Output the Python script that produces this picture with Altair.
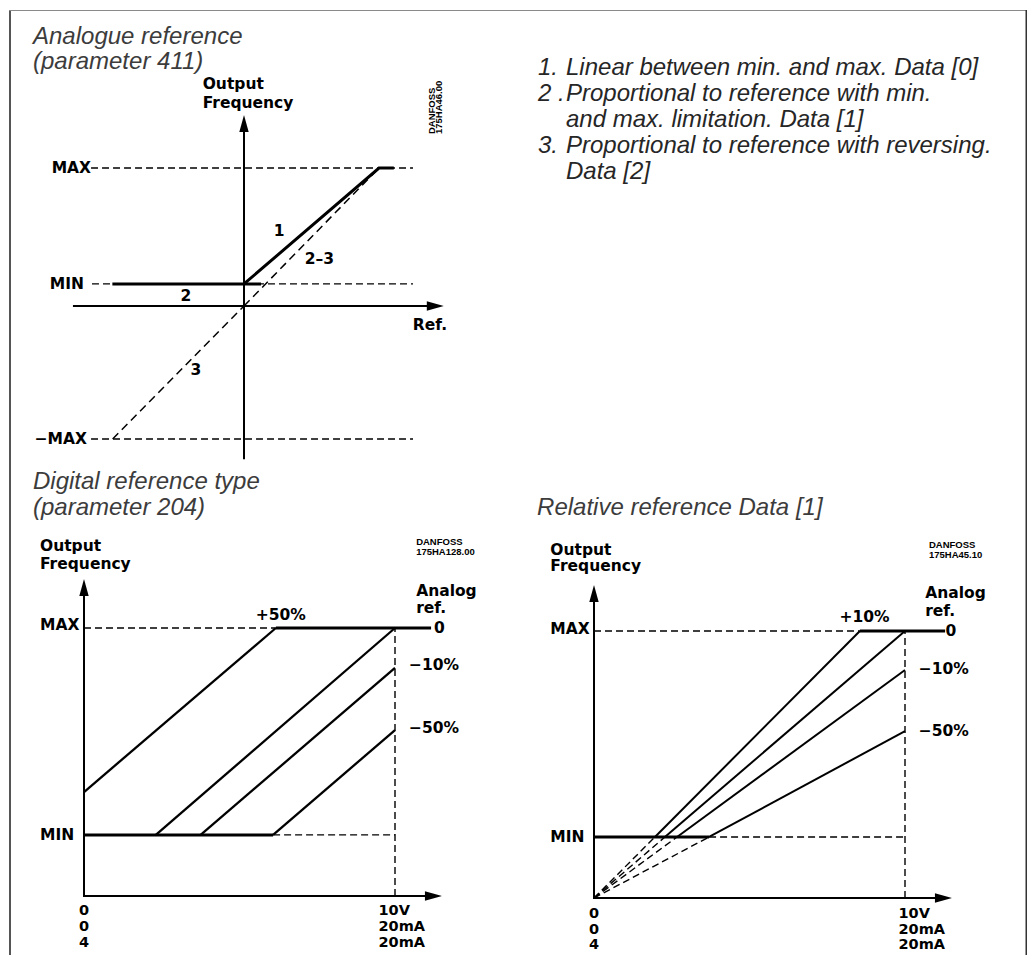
import altair as alt
import pandas as pd

# ---------------- data ----------------
# Panel A : analogue reference (x = Ref., y = output frequency, MAX = 1)
a_max, a_min, a_negmax = 1.0, 0.16, -0.964
a_curve1_x = [0.0, 1.0, 1.11]          # 1. linear between min and max
a_curve1_y = [0.16, 1.0, 1.0]
a_curve2_x = [-0.975, 0.126]           # 2. min limitation part
a_curve2_y = [0.16, 0.16]
a_curve23_x = [0.0, 1.0]               # 2-3 proportional part
a_curve23_y = [0.0, 1.0]
a_curve3_x = [-0.973, 0.0]             # 3. reversing part
a_curve3_y = [-0.964, 0.0]

# Panel B : digital reference type (x = analog ref 0..10 V, y = % of MAX)
dig_min, dig_max = 22.8, 100.0
dig_labels = ["+50%", "0", "\u221210%", "\u221250%"]
dig_x_start = [0.0, 2.31, 3.75, 6.08]
dig_y_start = [38.8, 22.8, 22.8, 22.8]
dig_x_end = [6.17, 10.0, 10.0, 10.0]
dig_y_end = [100.0, 100.0, 85.1, 61.9]

# Panel C : relative reference Data [1]
rel_min, rel_max = 22.85, 100.0
rel_labels = ["+10%", "0", "\u221210%", "\u221250%"]
rel_x_min = [1.96, 2.28, 2.67, 3.70]   # where each line crosses MIN
rel_x_end = [8.55, 10.0, 10.0, 10.0]
rel_y_end = [100.0, 100.0, 85.4, 62.5]

# x-axis end labels
x_lo_labels = ["0", "0", "4"]
x_hi_labels = ["10V", "20mA", "20mA"]

# Text list
list_nums = ["1.", "2 .", "", "3.", ""]
list_text = ["Linear between min. and max. Data [0]",
             "Proportional to reference with min.",
             "and max. limitation. Data [1]",
             "Proportional to reference with reversing.",
             "Data [2]"]

# ---------------- styling ----------------
DIAG_FONT = "DejaVu Sans"
TITLE_FONT = "Liberation Sans"
TITLE_SIZE = 24
TITLE_COLOR = "#3c3c3c"
LIST_COLOR = "#262626"
LBL = 15.5
STACK = 14.5
DASH = [7, 4]
FRAME = "#555555"

W_L, W_R = 508, 510
H_T, H_B = 450, 495

UP = "M0,0L0.55,2L-0.55,2Z"
RIGHT = "M0,0L-2,-0.55L-2,0.55Z"


def lines(paths, xs, ys, width, dash=None):
    rows = []
    for k, (px, py) in enumerate(paths):
        for j, (a, b) in enumerate(zip(px, py)):
            rows.append({"id": k, "o": j, "x": a, "y": b})
    kw = dict(strokeWidth=width, color="black", strokeCap="butt", strokeJoin="miter")
    if dash:
        kw["strokeDash"] = dash
    return alt.Chart(pd.DataFrame(rows)).mark_line(**kw).encode(
        x=alt.X("x:Q", scale=xs, axis=None),
        y=alt.Y("y:Q", scale=ys, axis=None),
        detail="id:N", order="o:Q")


def texts(rows, xs, ys, size, align="left", baseline="alphabetic", font=DIAG_FONT,
          bold=True, italic=False, color="black", angle=None):
    df = pd.DataFrame(rows, columns=["t", "x", "y"])
    kw = dict(align=align, baseline=baseline, font=font, fontSize=size,
              fontWeight="bold" if bold else "normal", color=color)
    if italic:
        kw["fontStyle"] = "italic"
    if angle is not None:
        kw["angle"] = angle
    return alt.Chart(df).mark_text(**kw).encode(
        x=alt.X("x:Q", scale=xs, axis=None),
        y=alt.Y("y:Q", scale=ys, axis=None),
        text="t:N")


def arrows(pts, shape, xs, ys, size=289):
    df = pd.DataFrame(pts, columns=["x", "y"])
    return alt.Chart(df).mark_point(shape=shape, filled=True, size=size, color="black",
                                    opacity=1, strokeWidth=0).encode(
        x=alt.X("x:Q", scale=xs, axis=None),
        y=alt.Y("y:Q", scale=ys, axis=None))


def vrule(xpx, h, width, color):
    return alt.Chart(pd.DataFrame({"d": [0]})).mark_rule(strokeWidth=width, color=color).encode(
        x=alt.value(xpx), y=alt.value(0), y2=alt.value(h))


def hrule(ypx, w, width, color):
    return alt.Chart(pd.DataFrame({"d": [0]})).mark_rule(strokeWidth=width, color=color).encode(
        y=alt.value(ypx), x=alt.value(0), x2=alt.value(w))


def sc(lo, hi, reverse=False):
    if reverse:
        return alt.Scale(domain=[lo, hi], nice=False, zero=False, reverse=True)
    return alt.Scale(domain=[lo, hi], nice=False, zero=False)


# ---------------- panel A ----------------
ax = sc(-235 / 135, 273 / 135)
ay = sc(-154 / 138, 296 / 138)
panelA = alt.layer(
    vrule(1, H_T, 2, FRAME),
    hrule(0.5, W_L, 1, "#8a8a8a"),
    # guides
    lines([([-1.133, 1.252], [a_max, a_max]),
           ([-1.126, 1.252], [a_min, a_min]),
           ([-1.133, 1.252], [a_negmax, a_negmax])], ax, ay, 1.4, DASH),
    lines([(a_curve23_x, a_curve23_y), (a_curve3_x, a_curve3_y)], ax, ay, 1.5, [8, 5]),
    # axes
    lines([([-1.267, 1.42], [0, 0]), ([0, 0], [-1.11, 1.33])], ax, ay, 2),
    arrows([(1.48, 0)], RIGHT, ax, ay),
    arrows([(0, 1.384)], UP, ax, ay),
    # curves
    lines([(a_curve1_x, a_curve1_y), (a_curve2_x, a_curve2_y)], ax, ay, 3),
    texts([("MAX", -1.133, a_max), ("MIN", -1.185, a_min), ("\u2212MAX", -1.163, a_negmax),
           ("Ref.", 1.504, -0.141)], ax, ay, LBL, align="right", baseline="middle"),
    texts([("1", 0.26, 0.543), ("2\u20133", 0.559, 0.337), ("2", -0.43, 0.076),
           ("3", -0.356, -0.467)], ax, ay, LBL, align="center", baseline="middle"),
    texts([("Output", -0.306, 1.570), ("Frequency", -0.306, 1.437)], ax, ay, LBL),
    texts([("DANFOSS", 1.396, 1.246), ("175HA46.00", 1.448, 1.246)], ax, ay, 9.5,
          font="Liberation Sans", baseline="middle", angle=270),
    texts([("Analogue reference", -1.563, 1.899), ("(parameter 411)", -1.563, 1.718)],
          ax, ay, TITLE_SIZE, font=TITLE_FONT, bold=False, italic=True, color=TITLE_COLOR),
).properties(width=W_L, height=H_T)

# ---------------- text list panel ----------------
tx = sc(-0.75, 17.464)
ty = sc(-2.526, 14.882, reverse=True)
list_rows_n = [(n, 0, i) for i, n in enumerate(list_nums) if n]
list_rows_t = [(t, 1, i) for i, t in enumerate(list_text)]
panelT = alt.layer(
    hrule(0.5, W_R, 1, "#8a8a8a"),
    vrule(509.25, H_T, 1.5, "#333333"),
    texts(list_rows_n, tx, ty, TITLE_SIZE, font=TITLE_FONT, bold=False, italic=True, color=LIST_COLOR),
    texts(list_rows_t, tx, ty, TITLE_SIZE, font=TITLE_FONT, bold=False, italic=True, color=LIST_COLOR),
).properties(width=W_R, height=H_T)

# ---------------- panel B ----------------
bx = sc((8 - 83) / 31.1, (516 - 83) / 31.1)
by = sc((894 - 953) / 2.68, (894 - 458) / 2.68)
dig_paths = [([x0, x1], [y0, y1]) for x0, y0, x1, y1 in
             zip(dig_x_start, dig_y_start, dig_x_end, dig_y_end)]
b_rows = [-7.09, -13.06, -19.03]
panelB = alt.layer(
    vrule(1, H_B, 2, FRAME),
    lines([([0, dig_x_end[0]], [dig_max, dig_max]),
           ([dig_x_start[3], 10], [dig_min, dig_min]),
           ([10, 10], [0, dig_max])], bx, by, 1.4, DASH),
    lines([([0, 0, 11.25], [115.3, 0, 0])], bx, by, 2),
    arrows([(11.51, 0)], RIGHT, bx, by),
    arrows([(0, 118.3)], UP, bx, by),
    lines([([dig_x_end[0], 11.16], [dig_max, dig_max]),
           ([0, dig_x_start[3]], [dig_min, dig_min])], bx, by, 3),
    lines(dig_paths, bx, by, 2.3),
    texts([("MAX", -1.415, 101.0), ("MIN", -1.415, dig_min), ("0", 11.25, dig_max),
           (dig_labels[2], 10.45, 86.2), (dig_labels[3], 10.45, 62.7)],
          bx, by, LBL, baseline="middle"),
    texts([(dig_labels[0], 6.33, 105.0)], bx, by, LBL, align="center", baseline="middle"),
    texts([("Output", -1.415, 128.6), ("Frequency", -1.415, 122.1),
           ("Analog", 10.68, 112.1), ("ref.", 10.68, 105.5)], bx, by, LBL),
    texts([(t, 9.47, yy) for t, yy in zip(x_hi_labels, b_rows)], bx, by, STACK),
    texts([(t, 0, yy) for t, yy in zip(x_lo_labels, b_rows)], bx, by, STACK, align="center"),
    texts([("DANFOSS", 10.68, 130.9), ("175HA128.00", 10.68, 127.1)], bx, by, 9.5,
          font="Liberation Sans"),
    texts([("Digital reference type", -1.64, 152.0), ("(parameter 204)", -1.64, 142.3)],
          bx, by, TITLE_SIZE, font=TITLE_FONT, bold=False, italic=True, color=TITLE_COLOR),
).properties(width=W_L, height=H_B)

# ---------------- panel C ----------------
cx = sc((516 - 593) / 31.1, (1026 - 593) / 31.1)
cy = sc((896 - 953) / 2.67, (896 - 458) / 2.67)
rel_low = [([0, xm], [0, rel_min]) for xm in rel_x_min]
rel_up = [([xm, x1], [rel_min, y1]) for xm, x1, y1 in zip(rel_x_min, rel_x_end, rel_y_end)]
c_rows = [-7.49, -13.30, -19.10]
panelC = alt.layer(
    vrule(509.25, H_B, 1.5, "#333333"),
    lines([([0, rel_x_end[0]], [rel_max, rel_max]),
           ([rel_x_min[3], 10], [rel_min, rel_min]),
           ([10, 10], [0, rel_max])] + rel_low, cx, cy, 1.4, DASH),
    lines([([0, 0, 11.25], [114.2, 0, 0])], cx, cy, 2),
    arrows([(11.51, 0)], RIGHT, cx, cy),
    arrows([(0, 117.2)], UP, cx, cy),
    lines([([rel_x_end[0], 11.29], [rel_max, rel_max]),
           ([0, rel_x_min[3]], [rel_min, rel_min])], cx, cy, 3),
    lines(rel_up, cx, cy, 2),
    texts([("MAX", -1.405, 100.9), ("MIN", -1.405, rel_min), ("0", 11.30, rel_max),
           (rel_labels[2], 10.44, 85.9), (rel_labels[3], 10.44, 62.4)],
          cx, cy, LBL, baseline="middle"),
    texts([(rel_labels[0], 8.70, 105.2)], cx, cy, LBL, align="center", baseline="middle"),
    texts([("Output", -1.405, 128.6), ("Frequency", -1.405, 122.4),
           ("Analog", 10.65, 112.4), ("ref.", 10.65, 105.7)], cx, cy, LBL),
    texts([(t, 9.79, yy) for t, yy in zip(x_hi_labels, c_rows)], cx, cy, STACK),
    texts([(t, 0, yy) for t, yy in zip(x_lo_labels, c_rows)], cx, cy, STACK, align="center"),
    texts([("DANFOSS", 10.77, 131.2), ("175HA45.10", 10.77, 127.5)], cx, cy, 9.5,
          font="Liberation Sans"),
    texts([("Relative reference Data [1]", -1.83, 143.3)],
          cx, cy, TITLE_SIZE, font=TITLE_FONT, bold=False, italic=True, color=TITLE_COLOR),
).properties(width=W_R, height=H_B)

chart = alt.concat(panelA, panelT, panelB, panelC, columns=2, spacing=0,
                   bounds="flush").properties(
    padding=0, background="white"
).configure_view(stroke="transparent")

chart.save("out.html", embed_options={"renderer": "svg", "actions": False})
